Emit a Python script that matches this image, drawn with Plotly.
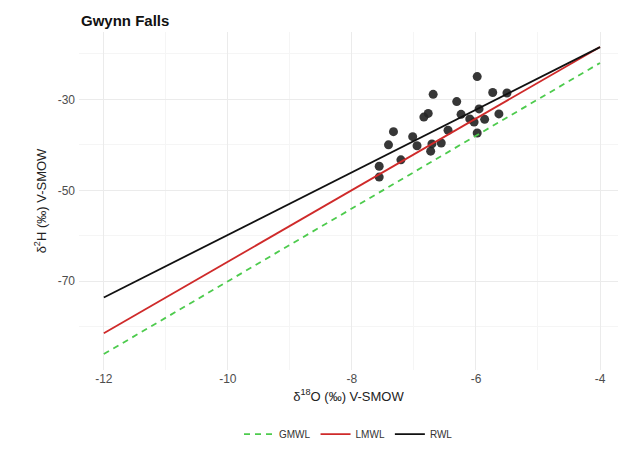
import plotly.graph_objects as go

# Stream water isotope samples, Gwynn Falls
d18O = [-5.98, -6.69, -5.73, -5.50, -6.31, -6.77, -6.84, -6.24, -5.95, -6.10,
        -6.03, -5.86, -5.63, -7.33, -6.45, -5.98, -7.02, -7.41, -6.95, -6.71,
        -6.56, -6.73, -7.21, -7.56, -7.56]
d2H = [-25.0, -28.9, -28.5, -28.6, -30.5, -33.1, -33.9, -33.3, -32.1, -34.3,
       -35.0, -34.4, -33.2, -37.1, -36.8, -37.4, -38.2, -40.0, -40.2, -39.8,
       -39.6, -41.4, -43.3, -44.7, -47.1]

# Meteoric water lines: name, slope, intercept
line_names = ["GMWL", "LMWL", "RWL"]
line_slopes = [8.0, 7.87, 6.88]
line_intercepts = [10.0, 13.0, 9.0]
line_colors = ["#4dcb4d", "#cf2a2a", "#111111"]
line_dashes = ["6px,5px", "solid", "solid"]
x_span = [-12.0, -4.0]

# Axis ticks (labels written with a plain hyphen)
x_ticks = [-12, -10, -8, -6, -4]
x_tick_labels = ["-12", "-10", "-8", "-6", "-4"]
y_ticks = [-70, -50, -30]
y_tick_labels = ["-70", "-50", "-30"]

fig = go.Figure()

fig.add_trace(go.Scatter(
    x=d18O, y=d2H, mode="markers",
    marker=dict(size=9, color="#262626", opacity=0.92, line=dict(width=0)),
    showlegend=False, hoverinfo="x+y",
))

for name, m, b, col, dash in zip(line_names, line_slopes, line_intercepts,
                                 line_colors, line_dashes):
    fig.add_trace(go.Scatter(
        x=x_span, y=[m * x + b for x in x_span], mode="lines", name=name,
        line=dict(color=col, width=1.8, dash=dash),
    ))

grid_major = "#ebebeb"
grid_minor = "#f5f5f5"

fig.update_layout(
    width=618, height=449,
    margin=dict(l=79, r=0, t=32, b=79),
    paper_bgcolor="white", plot_bgcolor="white",
    font=dict(family="Liberation Sans, Arial, sans-serif", color="#222"),
    title=dict(text="<b>Gwynn Falls</b>", x=81 / 618, xref="container",
               xanchor="left", y=1 - 20.5 / 449, yref="container",
               yanchor="middle", font=dict(size=15, color="#111")),
    legend=dict(orientation="h", x=0.5, xanchor="center", y=-0.19,
                yanchor="middle", font=dict(size=10, color="#333"),
                itemwidth=30, bgcolor="rgba(0,0,0,0)"),
    xaxis=dict(
        range=[-12.4, -3.71], tickmode="array", tickvals=x_ticks, ticktext=x_tick_labels,
        showline=False, zeroline=False,
        showgrid=True, gridcolor=grid_major, gridwidth=1,
        minor=dict(dtick=1, tick0=-12, showgrid=True, gridcolor=grid_minor, gridwidth=0.6),
        ticks="", tickfont=dict(size=12, color="#4d4d4d"),
        title=dict(text="δ<sup>18</sup>O (‰) V-SMOW", font=dict(size=13, color="#222"),
                   standoff=6),
    ),
    yaxis=dict(
        range=[-89.5, -15.2], tickmode="array", tickvals=y_ticks, ticktext=y_tick_labels,
        showline=False, zeroline=False,
        showgrid=True, gridcolor=grid_major, gridwidth=1,
        minor=dict(dtick=10, tick0=-30, showgrid=True, gridcolor=grid_minor, gridwidth=0.6),
        ticks="", tickfont=dict(size=12, color="#4d4d4d"), ticklabelstandoff=3,
        title=dict(text="δ<sup>2</sup>H (‰) V-SMOW", font=dict(size=13, color="#222"),
                   standoff=8),
    ),
)

fig.write_html("out.html")
